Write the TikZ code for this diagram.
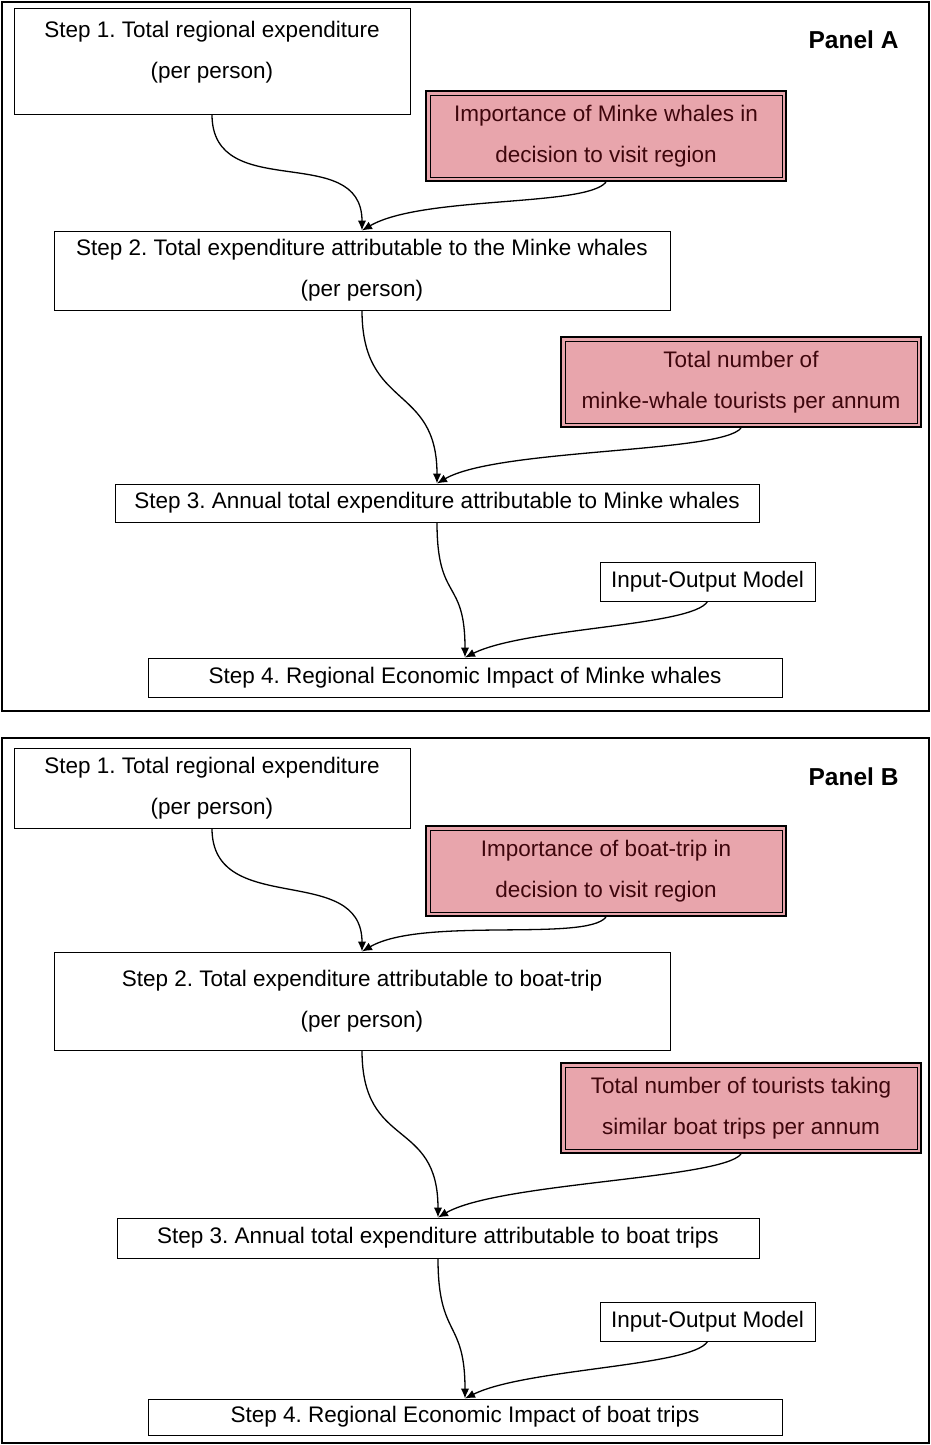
\documentclass[tikz,border=0pt]{standalone}
\usepackage{fontspec}
\setmainfont{Liberation Sans}
\usetikzlibrary{arrows.meta}
\definecolor{pinkfill}{RGB}{232,165,172}
\definecolor{darkred}{RGB}{62,6,12}
\frenchspacing
\begin{document}
\begin{tikzpicture}[x=1pt,y=-1pt,
  font=\fontsize{22.5}{41}\selectfont,
  panelbox/.style={draw, line width=2pt, inner sep=0pt, anchor=north west},
  stepbox/.style={draw, line width=1pt, fill=white, align=center, inner sep=0pt},
  plaintext/.style={align=center, inner sep=0pt},
  pinkbox/.style={draw, line width=2.2pt, fill=pinkfill, text=darkred, align=center, inner sep=0pt,
    minimum width=360, minimum height=90},
  conn/.style={line width=1.3pt, -{Latex[length=10pt,width=8.5pt]}},
  paneltitle/.style={font=\fontsize{24.5}{28}\selectfont\bfseries, anchor=east}]
\useasboundingbox (0,0) rectangle (930,1445);
% panels
\node[panelbox, minimum width=927, minimum height=709] (panelA) at (1,1) {};
\node[panelbox, minimum width=927, minimum height=705] (panelB) at (1,737) {};
\node[paneltitle] (titleA) at (902,40) {Panel A};
\node[paneltitle] (titleB) at (902,777) {Panel B};
% ---------------- Panel A
\node[stepbox, minimum width=396, minimum height=105] (a1) at (212,61.5) {};
\node[plaintext] (a1t) at (212,52) {Step 1. Total regional expenditure\\(per person)};
\node[pinkbox] (ap1) at (606,136) {Importance of Minke whales in\\decision to visit region};
\node[stepbox, minimum width=616, minimum height=79] (a2) at (362,270.5) {Step 2. Total expenditure attributable to the Minke whales\\(per person)};
\node[pinkbox] (ap2) at (741,382) {Total number of\\minke-whale tourists per annum};
\node[stepbox, minimum width=644, minimum height=38] (a3) at (437,503) {Step 3. Annual total expenditure attributable to Minke whales};
\node[stepbox, minimum width=215, minimum height=39] (aio) at (707.5,581.5) {Input-Output Model};
\node[stepbox, minimum width=634, minimum height=39] (a4) at (465,677.5) {Step 4. Regional Economic Impact of Minke whales};
% ---------------- Panel B
\node[stepbox, minimum width=396, minimum height=80] (b1) at (212,788) {Step 1. Total regional expenditure\\(per person)};
\node[pinkbox] (bp1) at (606,871) {Importance of boat-trip in\\decision to visit region};
\node[stepbox, minimum width=616, minimum height=98] (b2) at (362,1001) {Step 2. Total expenditure attributable to boat-trip\\(per person)};
\node[pinkbox] (bp2) at (741,1108) {Total number of tourists taking\\similar boat trips per annum};
\node[stepbox, minimum width=642, minimum height=40] (b3) at (438,1238) {Step 3. Annual total expenditure attributable to boat trips};
\node[stepbox, minimum width=215, minimum height=39] (bio) at (707.5,1321.5) {Input-Output Model};
\node[stepbox, minimum width=634, minimum height=36] (b4) at (465,1417) {Step 4. Regional Economic Impact of boat trips};
% inner frames of pink boxes
\foreach \n in {ap1,ap2,bp1,bp2}{
  \draw[line width=0.8pt] ([xshift=5pt,yshift=-5pt]\n.north west) rectangle ([xshift=-5pt,yshift=5pt]\n.south east);
}
% connectors panel A
\draw[conn] (a1.south) .. controls +(0,90) and +(0,-90) .. (a2.north);
\draw[conn] (ap1.south) .. controls +(-20,25) and +(60,-35) .. (a2.north);
\draw[conn] (a2.south) .. controls +(0,100) and +(0,-100) .. (a3.north);
\draw[conn] (ap2.south) .. controls +(-20,25) and +(60,-35) .. (a3.north);
\draw[conn] (a3.south) .. controls +(0,80) and +(0,-80) .. (a4.north);
\draw[conn] (aio.south) .. controls +(-15,25) and +(60,-30) .. (a4.north);
% connectors panel B
\draw[conn] (b1.south) .. controls +(0,90) and +(0,-90) .. (b2.north);
\draw[conn] (bp1.south) .. controls +(-20,25) and +(60,-35) .. (b2.north);
\draw[conn] (b2.south) .. controls +(0,100) and +(0,-100) .. (b3.north);
\draw[conn] (bp2.south) .. controls +(-20,25) and +(60,-35) .. (b3.north);
\draw[conn] (b3.south) .. controls +(0,80) and +(0,-80) .. (b4.north);
\draw[conn] (bio.south) .. controls +(-15,25) and +(60,-30) .. (b4.north);
\end{tikzpicture}
\end{document}
